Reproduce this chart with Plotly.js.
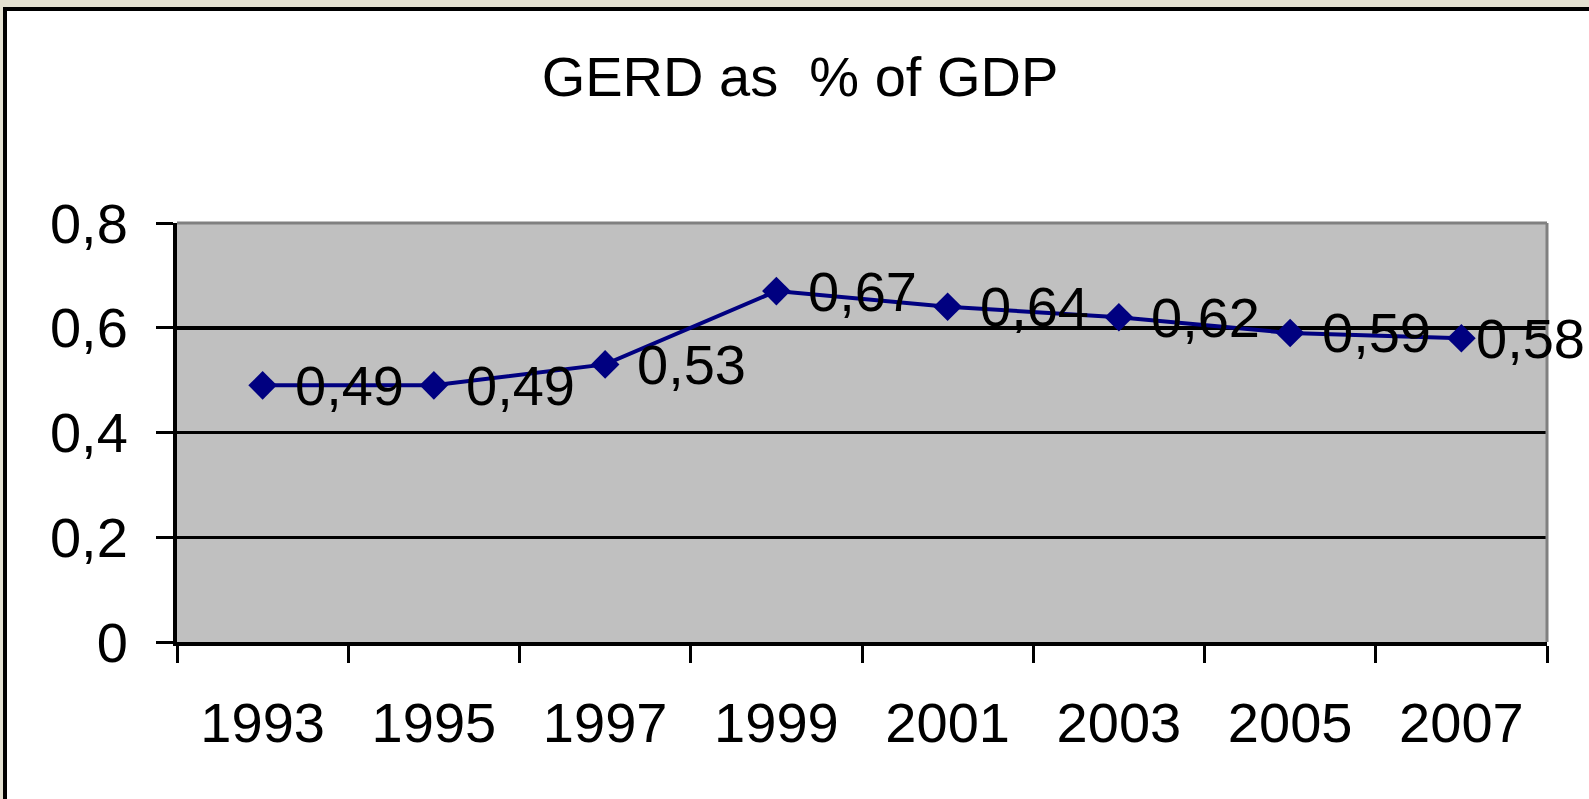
<!DOCTYPE html>
<html>
<head>
<meta charset="utf-8">
<script src="https://cdn.plot.ly/plotly-3.0.1.min.js"></script>
<style>
  html, body { margin: 0; padding: 0; background: #ffffff; }
  #chart { width: 1589px; height: 799px; }
</style>
</head>
<body>
<div id="chart"></div>
<script>
// ---- data ----
var years = ['1993', '1995', '1997', '1999', '2001', '2003', '2005', '2007'];
var gerdValues = [0.49, 0.49, 0.53, 0.67, 0.64, 0.62, 0.59, 0.58];
var yTickValues = [0, 0.2, 0.4, 0.6, 0.8];
var chartTitle = 'GERD as \u00a0% of GDP';

// ---- layout constants ----
var W = 1589, H = 799;
var ML = 177, MR = 42, MT = 223, MB = 157;
var PW = W - ML - MR, PH = H - MT - MB;
function px(x) { return (x - ML) / PW; }
function py(y) { return (H - MB - y) / PH; }

var FONT = 'Liberation Sans, Arial, sans-serif';
var labelText = gerdValues.map(function (v) { return v.toFixed(2).replace('.', ','); });

// data labels to the right of each point (x given as category index);
// the last one is nudged left so that it stays inside the picture
var annotations = years.map(function (yr, i) {
  return {
    x: i, y: gerdValues[i], xref: 'x', yref: 'y',
    text: labelText[i], showarrow: false,
    xanchor: 'left', yanchor: 'middle',
    xshift: (i === years.length - 1) ? 13 : 30, yshift: 0,
    font: { family: FONT, size: 56, color: '#000000' }
  };
});

var beige = '#e4e1d1';
var shapes = [
  { type: 'rect', xref: 'paper', yref: 'paper', x0: px(0), x1: px(W), y0: py(0), y1: py(7),
    fillcolor: beige, line: { width: 0 }, layer: 'below' },
  { type: 'rect', xref: 'paper', yref: 'paper', x0: px(0), x1: px(3), y0: py(0), y1: py(H),
    fillcolor: beige, line: { width: 0 }, layer: 'below' },
  { type: 'line', xref: 'paper', yref: 'paper', x0: px(3), x1: px(W), y0: py(9), y1: py(9),
    line: { color: '#000000', width: 4 } },
  { type: 'line', xref: 'paper', yref: 'paper', x0: px(5), x1: px(5), y0: py(7), y1: py(H),
    line: { color: '#000000', width: 4 } },
  { type: 'line', xref: 'paper', yref: 'paper', x0: 0, x1: 1, y0: 1, y1: 1,
    line: { color: '#808080', width: 3 }, layer: 'above' },
  { type: 'line', xref: 'paper', yref: 'paper', x0: 1, x1: 1, y0: 0, y1: 1,
    line: { color: '#808080', width: 3 }, layer: 'above' }
];

var trace = {
  type: 'scatter', mode: 'lines+markers',
  x: years, y: gerdValues,
  line: { color: '#000080', width: 4 },
  marker: { symbol: 'diamond', size: 22, color: '#000080' },
  cliponaxis: false,
  hoverinfo: 'x+y'
};

var layout = {
  width: W, height: H,
  margin: { l: ML, r: MR, t: MT, b: MB, pad: 0 },
  paper_bgcolor: '#ffffff',
  plot_bgcolor: '#c0c0c0',
  separators: ', ',
  showlegend: false,
  font: { family: FONT, size: 56, color: '#000000' },
  title: {
    text: chartTitle,
    xref: 'container', yref: 'container',
    x: 800 / W, xanchor: 'center',
    y: 1 - 76 / H, yanchor: 'middle',
    font: { family: FONT, size: 56, color: '#000000' }
  },
  xaxis: {
    type: 'category',
    range: [-0.5, years.length - 0.5],
    tickson: 'boundaries',
    ticks: 'outside', ticklen: 17, tickwidth: 3, tickcolor: '#000000',
    showline: true, linecolor: '#000000', linewidth: 4,
    showgrid: false, zeroline: false,
    ticklabelstandoff: 29,
    tickfont: { family: FONT, size: 56, color: '#000000' },
    fixedrange: true
  },
  yaxis: {
    range: [0, 0.8],
    tickvals: yTickValues,
    tickformat: '.1~f',
    ticks: 'outside', ticklen: 17, tickwidth: 3, tickcolor: '#000000',
    showline: true, linecolor: '#000000', linewidth: 4,
    showgrid: true, gridcolor: '#000000', gridwidth: 3.5,
    zeroline: false,
    ticklabelstandoff: 17,
    tickfont: { family: FONT, size: 56, color: '#000000' },
    fixedrange: true
  },
  annotations: annotations,
  shapes: shapes
};

Plotly.newPlot('chart', [trace], layout, { displayModeBar: false, staticPlot: true });
</script>
</body>
</html>
